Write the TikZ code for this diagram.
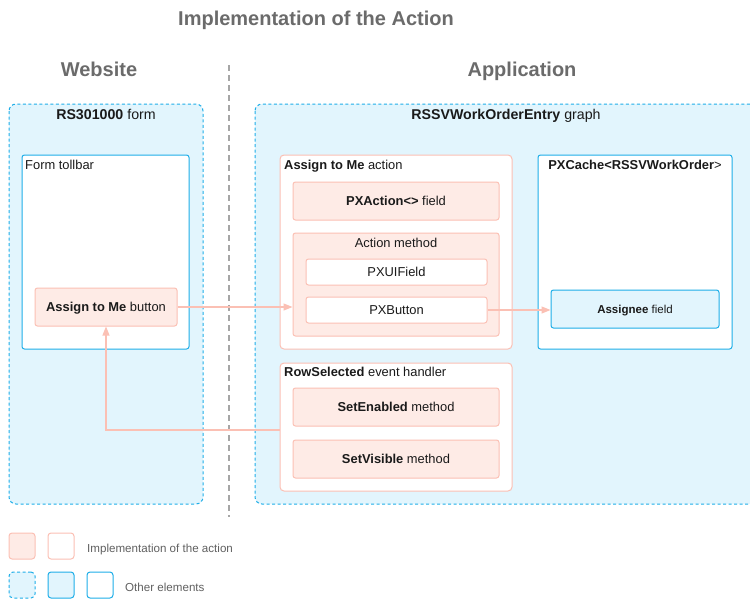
\documentclass[tikz,border=0pt]{standalone}
\usepackage{fontspec}
\setmainfont{Liberation Sans}
\usetikzlibrary{arrows.meta}
\definecolor{cyanb}{HTML}{1EAEE8}
\definecolor{lblue}{HTML}{E2F5FD}
\definecolor{pinkb}{HTML}{FBC0B4}
\definecolor{pinkf}{HTML}{FEEBE6}
\definecolor{titlegray}{HTML}{6B6B6B}
\definecolor{txt}{HTML}{1A1A1A}
\begin{document}
\begin{tikzpicture}[x=1pt,y=-1pt,
  container/.style={draw=cyanb,dashed,fill=lblue,rounded corners=7pt,line width=1pt,dash pattern=on 3pt off 2.5pt},
  bluebox/.style={draw=cyanb,fill=white,rounded corners=2.5pt,line width=1pt},
  bluefill/.style={draw=cyanb,fill=lblue,rounded corners=2.5pt,line width=1pt},
  pinkbox/.style={draw=pinkb,fill=white,rounded corners=4pt,line width=1pt},
  pinkfill/.style={draw=pinkb,fill=pinkf,rounded corners=2.5pt,line width=1pt},
  lbl/.style={font=\fontsize{12.9}{14}\selectfont,text=txt,inner sep=0pt,anchor=base},
  clbl/.style={font=\fontsize{14.2}{16}\selectfont,text=txt,inner sep=0pt,anchor=base},
  head/.style={font=\fontsize{20}{23}\selectfont\bfseries,text=titlegray,inner sep=0pt,anchor=base},
  conn/.style={draw=pinkb,line width=1.1pt,-{Triangle[length=9pt,width=7pt]}},
  leg/.style={font=\fontsize{11.6}{13}\selectfont,text=titlegray!90!black,inner sep=0pt,anchor=base west},
  lowerpt/.style={yshift=-4.6pt}
]
\useasboundingbox (0,0) rectangle (750,600);
% titles
\node[head] (title) at (316,25) {Implementation of the Action};
\node[head] (web) at (99,76) {Website};
\node[head] (app) at (522,76) {Application};
% divider
\coordinate (dtop) at (229,65);
\coordinate (dbot) at (229,517);
\draw[draw=black!35,line width=1.5pt,dash pattern=on 6pt off 4pt] (dtop) -- (dbot);
% containers
\draw[container] (9,104) rectangle (203,504);
\draw[container] (255,104) rectangle (765,504);
\node[clbl] (rsform) at (106,119) {\textbf{RS301000} form};
\node[clbl] (graph) at (506,119) {\textbf{RSSVWorkOrderEntry} graph};
% form toolbar
\draw[bluebox] (22,155) rectangle (189,349);
\node[lbl,anchor=base west] (tb) at (25,169.6) {Form tollbar};
\node[pinkfill,minimum width=142pt,minimum height=38pt,inner sep=0pt] (btn) at (106,307) {};
\node[lbl] at ([lowerpt]btn.center) {\textbf{Assign to Me} button};
% Assign to Me action
\draw[pinkbox] (280,155) rectangle (512,349);
\node[lbl,anchor=base west] (acttitle) at (284,169.6) {\textbf{Assign to Me} action};
\node[pinkfill,minimum width=206pt,minimum height=38pt,inner sep=0pt] (pxaction) at (396,201) {};
\node[lbl] at ([lowerpt]pxaction.center) {\textbf{PXAction<>} field};
\node[pinkfill,minimum width=206pt,minimum height=103pt,inner sep=0pt] (method) at (396,284.5) {};
\node[lbl] (methodlbl) at (396,247.6) {Action method};
\node[draw=pinkb,fill=white,rounded corners=2.5pt,line width=1pt,minimum width=181pt,minimum height=26pt,inner sep=0pt] (uifield) at (396.5,272) {};
\node[lbl] at ([lowerpt]uifield.center) {PXUIField};
\node[draw=pinkb,fill=white,rounded corners=2.5pt,line width=1pt,minimum width=181pt,minimum height=26pt,inner sep=0pt] (pxbtn) at (396.5,310) {};
\node[lbl] at ([lowerpt]pxbtn.center) {PXButton};
% PXCache
\draw[bluebox] (538,155) rectangle (732,349);
\node[lbl] (cache) at (635,169.6) {\textbf{PXCache<RSSVWorkOrder}>};
\node[bluefill,minimum width=168pt,minimum height=38pt,inner sep=0pt] (assignee) at (635,309) {};
\node[lbl,font=\fontsize{11.5}{13}\selectfont] at ([yshift=-4.1pt]assignee.center) {\textbf{Assignee} field};
% RowSelected
\node[pinkbox,minimum width=232pt,minimum height=128pt,inner sep=0pt] (rowsel) at (396,427) {};
\node[lbl,anchor=base west] (rstitle) at (284,376.6) {\textbf{RowSelected} event handler};
\node[pinkfill,minimum width=206pt,minimum height=38pt,inner sep=0pt] (setenabled) at (396,407) {};
\node[lbl] at ([lowerpt]setenabled.center) {\textbf{SetEnabled} method};
\node[pinkfill,minimum width=206pt,minimum height=38pt,inner sep=0pt] (setvisible) at (396,459) {};
\node[lbl] at ([lowerpt]setvisible.center) {\textbf{SetVisible} method};
% connectors
\draw[conn] (btn.east) -- (method.west |- btn.east);
\draw[conn] (pxbtn.east) -- (assignee.west |- pxbtn.east);
\draw[conn] (rowsel.west |- 0,430) -| (btn.south);
% legend
\node[pinkfill,rounded corners=3pt,minimum size=26pt,inner sep=0pt] (l1) at (22,546) {};
\node[draw=pinkb,fill=white,rounded corners=3pt,line width=1pt,minimum size=26pt,inner sep=0pt] (l2) at (61,546) {};
\node[leg] (lt1) at (87,552) {Implementation of the action};
\node[container,rounded corners=4pt,minimum size=26pt,inner sep=0pt] (l3) at (22,585) {};
\node[bluefill,rounded corners=3pt,minimum size=26pt,inner sep=0pt] (l4) at (61,585) {};
\node[bluebox,rounded corners=3pt,minimum size=26pt,inner sep=0pt] (l5) at (100,585) {};
\node[leg] (lt2) at (125,591) {Other elements};
\end{tikzpicture}
\end{document}
